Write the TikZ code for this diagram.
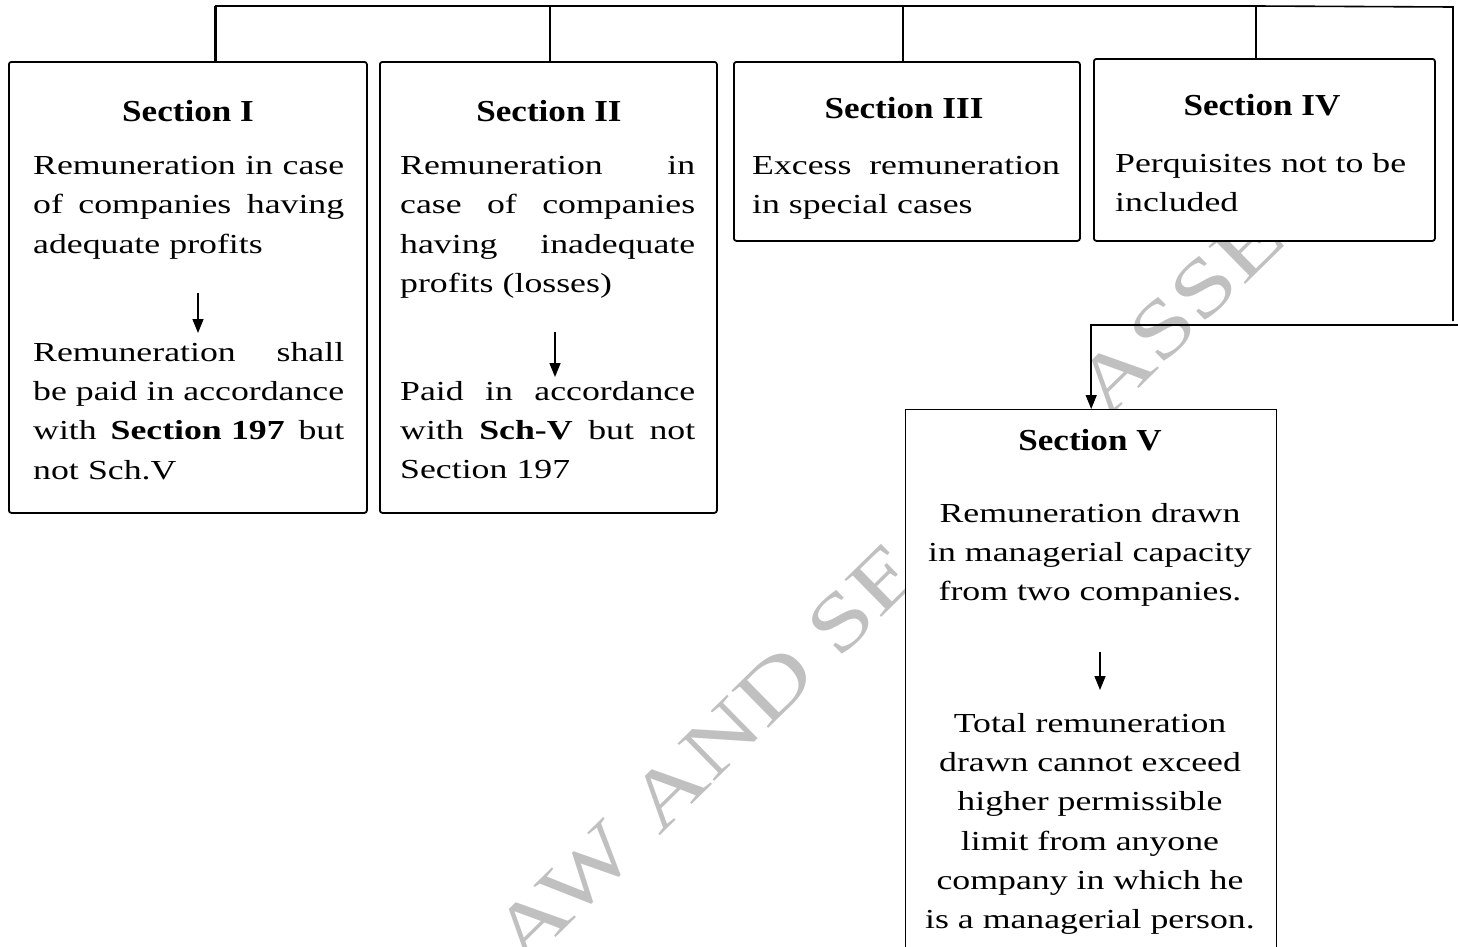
\documentclass[tikz,border=0pt]{standalone}
\usepackage{fontspec}
\setmainfont{Liberation Serif}[FakeStretch=1.3]
\newfontfamily\headfam{Liberation Serif}[FakeStretch=1.15]
\usetikzlibrary{arrows.meta}
\definecolor{wmgray}{RGB}{192,192,192}
\newcommand\bodyfont{\fontsize{27.5bp}{39.3bp}\selectfont}
\newcommand\headfont{\headfam\fontsize{30.5bp}{36bp}\selectfont\bfseries}
\newcommand\wmfont{\fontsize{80bp}{80bp}\selectfont}
\newcommand\jlineA[1]{\leavevmode\hbox to 311bp{#1}}
\newcommand\jlineB[1]{\leavevmode\hbox to 295bp{#1}}
\begin{document}
\begin{tikzpicture}[x=1bp,y=-1bp,
  box/.style={draw,line width=1.8bp,fill=white,rounded corners=2.5bp,inner sep=0,anchor=north west},
  boxv/.style={draw,line width=1.4bp,fill=white,inner sep=0,anchor=north west},
  para/.style={inner sep=0,anchor=north west,align=left,font=\bodyfont},
  cpara/.style={inner sep=0,anchor=north,align=center,font=\bodyfont},
  title/.style={inner sep=0,anchor=base,font=\headfont},
  conn/.style={line width=2bp},
  arr/.style={line width=1.5bp,-{Triangle[length=14bp,width=11bp]}},
  wm/.style={inner sep=0,anchor=center,rotate=44.5,font=\wmfont,text=wmgray}]
\useasboundingbox (0,0) rectangle (1458,946);
\clip (0,0) rectangle (1458,946);
% watermark
\node[wm] (wm1) at (706,754) {AW AND SE};
\node[wm] (wm2) at (1200,292) {ASSES};
% boxes
\node[box,minimum width=358bp,minimum height=451bp] (b1) at (8,61) {};
\node[box,minimum width=337bp,minimum height=451bp] (b2) at (379,61) {};
\node[box,minimum width=346bp,minimum height=179bp] (b3) at (733,61) {};
\node[box,minimum width=341bp,minimum height=182bp] (b4) at (1093,58) {};
\node[boxv,minimum width=371bp,minimum height=580bp] (b5) at (905,409) {};
% top connectors
\coordinate (j1) at (215,6);
\coordinate (j2) at (550,6);
\coordinate (j3) at (903,6);
\coordinate (j4) at (1256,6);
\coordinate (r1) at (1453,7);
\coordinate (r2) at (1453,321);
\coordinate (h1) at (1458,325);
\draw[conn] (j1) -- (j4);
\draw[line width=1.6bp] (j4) -- (r1) -- (r2);
\draw[line width=3bp] (j1) -- (j1 |- b1.north);
\draw[conn] (j2) -- (j2 |- b2.north);
\draw[conn] (j3) -- (j3 |- b3.north);
\draw[conn] (j4) -- (j4 |- b4.north);
\draw[arr] (h1) -- (h1 -| b5.north) -- (b5.north);
% Section I
\node[title] (s1) at (188,121) {Section I};
\node[para,text width=311bp] (p1a) at (33,156) {\jlineA{Remuneration\hfill in\hfill case}\\ \jlineA{of\hfill companies\hfill having}\\ adequate profits};
\coordinate (a1s) at (198,293);
\coordinate (a1e) at (198,333);
\draw[arr] (a1s) -- (a1e);
\node[para,text width=311bp] (p1b) at (33,342) {\jlineA{Remuneration\hfill shall}\\ \jlineA{be\hfill paid\hfill in\hfill accordance}\\ \jlineA{with\hfill \textbf{Section 197}\hfill but}\\ not Sch.V};
% Section II
\node[title] (s2) at (549,121) {Section II};
\node[para,text width=295bp] (p2a) at (400,156) {\jlineB{Remuneration\hfill in}\\ \jlineB{case\hfill of\hfill companies}\\ \jlineB{having\hfill inadequate}\\ profits (losses)};
\coordinate (a2s) at (555,332);
\coordinate (a2e) at (555,377);
\draw[arr] (a2s) -- (a2e);
\node[para,text width=295bp] (p2b) at (400,381) {\jlineB{Paid\hfill in\hfill accordance}\\ \jlineB{with\hfill \textbf{Sch-V}\hfill but\hfill not}\\ Section 197};
% Section III
\node[title] (s3) at (904,118) {Section III};
\node[para] (p3) at (752,156) {Excess\ \ remuneration\\ in special cases};
% Section IV
\node[title] (s4) at (1262,115) {Section IV};
\node[para] (p4) at (1115,153) {Perquisites not to be\\ included};
% Section V
\node[title] (s5) at (1090,450) {Section V};
\node[cpara] (p5a) at (1090,503) {Remuneration drawn\\ in managerial capacity\\ from two companies.};
\coordinate (a5s) at (1100,652);
\coordinate (a5e) at (1100,690);
\draw[arr] (a5s) -- (a5e);
\node[cpara] (p5b) at (1090,713) {Total remuneration\\ drawn cannot exceed\\ higher permissible\\ limit from anyone\\ company in which he\\ is a managerial person.};
\end{tikzpicture}
\end{document}
